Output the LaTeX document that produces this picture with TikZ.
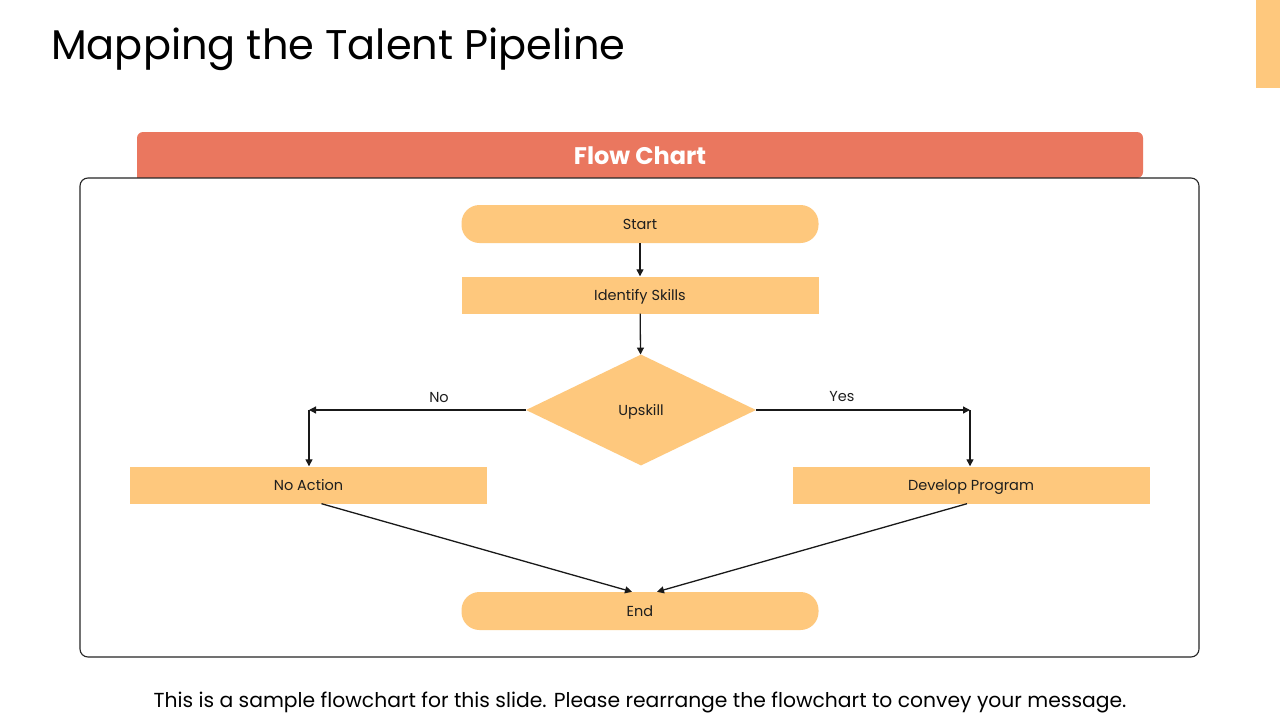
\documentclass[tikz,border=0pt]{standalone}
\usepackage{fontspec}
\setmainfont{Poppins}
\usetikzlibrary{shapes.geometric,arrows.meta,calc}
\definecolor{peach}{RGB}{254,200,125}
\definecolor{coral}{RGB}{234,119,95}
\definecolor{txt}{RGB}{30,30,30}
\begin{document}
\begin{tikzpicture}[x=1pt,y=-1pt,
  nfont/.style={font=\fontsize{14.5}{17}\selectfont,text=txt,text height=11.5pt,text depth=0pt},
  pill/.style={nfont,fill=peach,rounded corners=18pt,minimum width=357pt,minimum height=38pt,inner sep=0pt},
  box/.style={nfont,fill=peach,minimum width=357pt,minimum height=37pt,inner sep=0pt},
  dec/.style={nfont,fill=peach,diamond,aspect=2,minimum width=230pt,minimum height=111pt,inner sep=0pt},
  arr/.style={draw=black!90,line width=1.3pt,-{Triangle[length=7pt,width=7pt]}},
  lbl/.style={font=\fontsize{14.5}{17}\selectfont,text=txt}]
\useasboundingbox (0,0) rectangle (1280,720);
\fill[white] (0,0) rectangle (1280,720);
% corner accent
\fill[peach] (1256,0) rectangle (1280,88);
% title
\node[anchor=west,font=\fontsize{41.5}{48}\selectfont,inner sep=0pt] (title) at (51,49) {Mapping the Talent Pipeline};
% header
\fill[coral,rounded corners=6pt] (137,178) -- (137,132) -- (1143,132) -- (1143,178) [sharp corners]-- cycle;
\node[font=\bfseries\fontsize{24}{28}\selectfont,text=white] (hdr) at (640,156) {Flow Chart};
% frame
\draw[line width=1.1pt,draw=black!85,rounded corners=8pt,fill=white] (80,178) rectangle (1199,657);
% nodes
\node[pill] (start) at (640,224) {Start};
\node[box] (ident) at (640,295) {Identify Skills};
\node[dec] (up) at (641,410) {Upskill};
\node[box] (noact) at (308.5,485) {No Action};
\node[box] (dev) at (971,485) {Develop Program};
\node[pill] (end) at (640,611) {End};
% connectors
\draw[arr] (start) -- (ident);
\draw[arr] (ident) -- (up);
\coordinate (nel) at (309,410);
\coordinate (yel) at (970,410);
\draw[arr] (up.west) -- (nel);
\draw[arr] (nel) -- (nel |- noact.north);
\draw[arr] (up.east) -- (yel);
\draw[arr] (yel) -- (yel |- dev.north);
\node[lbl] (nolbl) at (439,397) {No};
\node[lbl] (yeslbl) at (842,397) {Yes};
\coordinate (na1) at ($(noact.south)+(13,0)$);
\coordinate (dv1) at ($(dev.south)+(-4,0)$);
\draw[arr] (na1) -- ($(end.north)+(-8,0)$);
\draw[arr] (dv1) -- ($(end.north)+(17,0)$);
% footer
\node[font=\fontsize{20.3}{24}\selectfont] (foot) at (640,702) {This is a sample flowchart for this slide. Please rearrange the flowchart to convey your message.};
\end{tikzpicture}
\end{document}
